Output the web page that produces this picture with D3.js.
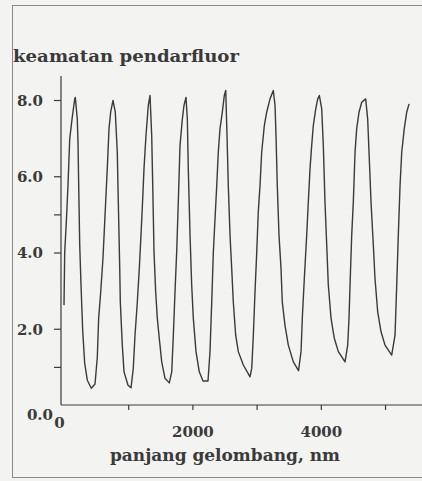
<!DOCTYPE html>
<html>
<head>
<meta charset="utf-8">
<script src="https://cdn.jsdelivr.net/npm/d3@7"></script>
<style>
  html, body { margin: 0; padding: 0; background: #f3f3f1; }
  svg { display: block; }
  text { font-family: "DejaVu Serif", serif; font-weight: bold; fill: #3a3a3a; }
</style>
</head>
<body>
<svg id="chart" width="422" height="481"></svg>
<script>
// spektrum pendarfluor (panjang gelombang nm, keamatan)
const wavelength = [
  0, 11, 36, 62, 89, 125, 167, 176,
  207, 218, 229, 245, 265, 291, 322, 363, 425, 483, 519,
  540, 572, 607, 634, 674, 701, 727, 763,
  799, 830, 846, 868, 877, 908, 935, 997, 1044,
  1079, 1106, 1142, 1173, 1199, 1226, 1246, 1277, 1313, 1340,
  1366, 1382, 1402, 1428, 1453, 1484, 1522, 1573, 1640,
  1678, 1703, 1729, 1755, 1780, 1807, 1843, 1869, 1900,
  1921, 1936, 1963, 1989, 2014, 2056, 2107, 2165, 2243,
  2274, 2301, 2326, 2352, 2379, 2403, 2430, 2466, 2497, 2519,
  2539, 2559, 2586, 2612, 2637, 2674, 2715, 2793, 2897,
  2924, 2949, 2975, 3002, 3026, 3053, 3079, 3120, 3157, 3209, 3260,
  3287, 3302, 3322, 3349, 3380, 3400, 3442, 3494, 3572, 3653,
  3692, 3712, 3743, 3780, 3805, 3832, 3858, 3883, 3921, 3952, 3977,
  4014, 4039, 4065, 4092, 4117, 4159, 4210, 4273, 4377,
  4419, 4439, 4455, 4481, 4506, 4533, 4559, 4595, 4637, 4699,
  4730, 4751, 4782, 4818, 4844, 4886, 4938, 5000, 5104,
  5156, 5182, 5207, 5234, 5260, 5300, 5338, 5374
];
const intensity = [
  2.62, 4.01, 4.8, 5.76, 6.98, 7.5, 8.03, 8.07,
  7.5, 6.9, 5.76, 4.19, 3.14, 1.96, 1.1, 0.65, 0.44, 0.55, 1.26,
  2.28, 2.97, 3.85, 4.8, 6.2, 7.25, 7.68, 7.99,
  7.68, 6.63, 5.32, 3.59, 2.7, 1.57, 0.87, 0.52, 0.45,
  0.96, 1.83, 2.7, 3.58, 4.45, 5.41, 6.2, 7.07, 7.86, 8.12,
  7.07, 5.76, 4.01, 2.97, 2.28, 1.75, 1.13, 0.7, 0.58,
  0.87, 1.83, 2.97, 4.01, 5.32, 6.81, 7.5, 7.86, 8.07,
  7.5, 6.2, 4.45, 3.14, 2.28, 1.4, 0.87, 0.63, 0.63,
  1.4, 2.7, 4.01, 4.88, 5.76, 6.63, 7.25, 7.68, 8.12, 8.25,
  7.07, 5.76, 4.45, 3.58, 2.7, 1.83, 1.4, 1.05, 0.74,
  0.96, 1.83, 2.97, 4.01, 5.06, 5.76, 6.63, 7.33, 7.68, 8.03, 8.25,
  7.86, 7.07, 5.76, 4.45, 3.58, 2.7, 2.09, 1.57, 1.13, 0.9,
  1.4, 2.28, 3.32, 4.45, 5.32, 6.2, 6.81, 7.33, 7.77, 8.03, 8.12,
  7.77, 6.81, 5.32, 4.19, 3.14, 2.28, 1.75, 1.4, 1.13,
  1.57, 2.28, 3.14, 4.45, 5.32, 6.63, 7.25, 7.68, 7.94, 8.03,
  7.5, 6.63, 5.32, 4.19, 3.32, 2.44, 1.92, 1.57, 1.31,
  1.83, 3.14, 4.45, 5.76, 6.63, 7.25, 7.68, 7.9
];

const xTicks = [0, 1000, 2000, 3000, 4000, 5000];
const xTickLabels = ["0", "", "2000", "", "4000", ""];
const yTicks = [1, 2, 4, 5, 6, 8];
const yTickLabels = { 2: "2.0", 4: "4.0", 6: "6.0", 8: "8.0" };

const titleText = "keamatan pendarfluor";
const xTitleText = "panjang gelombang, nm";

const ink = "#3a3a3a";
const svg = d3.select("#chart");

// bingkai luar hasil pindaian
svg.append("rect")
  .attr("x", 12.5).attr("y", 5.5).attr("width", 420).attr("height", 472)
  .attr("fill", "none").attr("stroke", "#8a8a8a").attr("stroke-width", 1);

const x = d3.scaleLinear().domain([0, 5576]).range([64, 422]);
const y = d3.scaleLinear().domain([0, 8.63]).range([405, 76]);

// sumbu Y
const yAxis = svg.append("g").attr("transform", "translate(61,0)")
  .call(d3.axisLeft(y).tickValues(yTicks).tickSize(7).tickPadding(11)
    .tickFormat((d) => yTickLabels[d] || ""));
yAxis.select(".domain").attr("d", `M0,${y(8.63)}V${y(0)}`);
yAxis.selectAll("path, line").attr("stroke", ink).attr("stroke-width", 1.2);
yAxis.selectAll("text").style("font-size", "15px").attr("fill", ink).attr("dy", "0.36em");

// label 0.0 sedikit di bawah garis dasar, seperti di gambar asli
svg.append("text").attr("x", 53).attr("y", 420).attr("text-anchor", "end")
  .style("font-size", "15px").text("0.0");

// sumbu X
const xAxis = svg.append("g").attr("transform", `translate(0,${y(0)})`)
  .call(d3.axisBottom(x).tickValues(xTicks).tickSize(5).tickPadding(16)
    .tickFormat((d, i) => xTickLabels[i]));
xAxis.select(".domain").attr("d", `M61,0H422`);
xAxis.selectAll("path, line").attr("stroke", ink).attr("stroke-width", 1.2);
xAxis.selectAll(".tick").filter((d) => d === 0).select("line").remove();
xAxis.selectAll("text").style("font-size", "15px").attr("fill", ink);
xAxis.selectAll(".tick").filter((d) => d === 0).select("text").attr("x", -5).attr("y", 12);

// kurva spektrum
const pts = wavelength.map((w, i) => [w, intensity[i]]);
const line = d3.line().x((d) => x(d[0])).y((d) => y(d[1]));
svg.append("path").datum(pts)
  .attr("fill", "none").attr("stroke", ink).attr("stroke-width", 1.4)
  .attr("stroke-linejoin", "round")
  .attr("d", line);

// judul, dilebarkan agar sama dengan hasil pindaian
svg.append("text").attr("x", 13).attr("y", 62)
  .style("font-size", "17px")
  .attr("textLength", 226).attr("lengthAdjust", "spacingAndGlyphs")
  .text(titleText);
svg.append("text").attr("x", 110).attr("y", 461)
  .style("font-size", "16px")
  .attr("textLength", 230).attr("lengthAdjust", "spacingAndGlyphs")
  .text(xTitleText);
</script>
</body>
</html>
